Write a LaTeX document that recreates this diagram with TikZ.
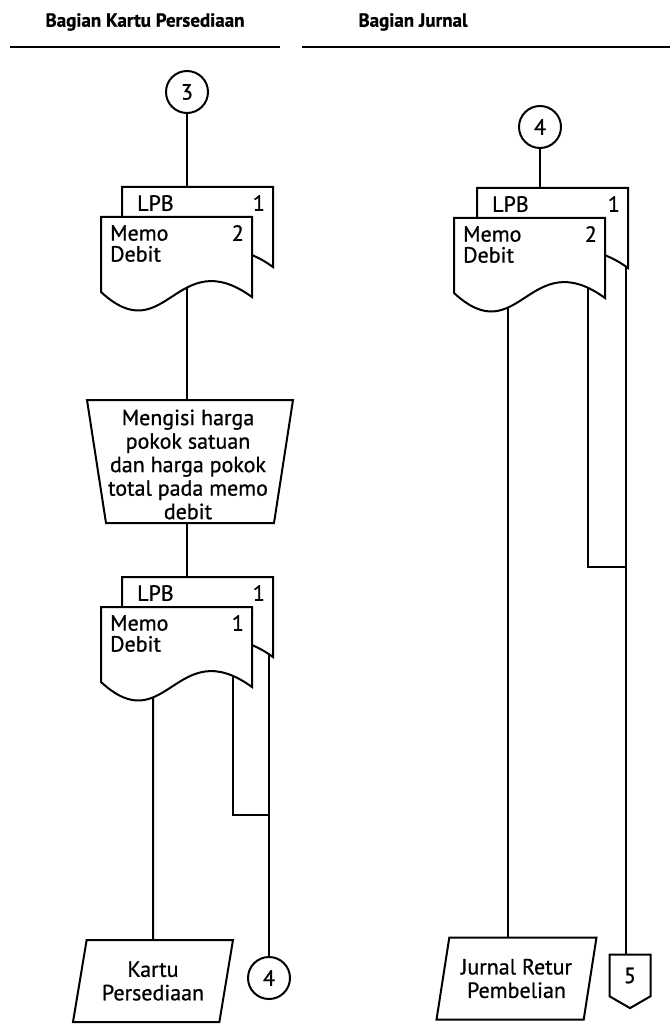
\documentclass[tikz,border=0pt]{standalone}
\usepackage{fontspec}
\setmainfont{PT Sans}[FakeBold=0.8]
\usetikzlibrary{shapes.geometric,shapes.symbols,backgrounds,positioning}

\newcommand{\teks}{\fontsize{22}{23.5}\selectfont}
% dokumen: nama, x, y, isi, nomor, indent
\newcommand{\dok}[6]{%
  \node[dokarea] (#1) at (#2,#3) {};
  \draw[garis,fill=white] (#1.north west) -- (#1.north east) -- ++(0,80)
    .. controls +(-76,-55) and +(65,60) .. ++(-151,-5) -- cycle;
  \node[dokteks] at ([shift={(#6,8)}]#1.north west) {#4};
  \node[doknomor] at ([shift={(-8,8)}]#1.north east) {#5};
}

\begin{document}
\begin{tikzpicture}[x=1pt,y=-1pt,
  garis/.style={line width=2pt},
  judul/.style={font=\fontsize{19}{20}\selectfont\bfseries},
  dokarea/.style={anchor=north west,minimum width=151pt,minimum height=75pt,inner sep=0pt,outer sep=0pt},
  dokteks/.style={anchor=north west,inner sep=0pt,align=left,font=\fontsize{22}{21}\selectfont},
  doknomor/.style={anchor=north east,inner sep=0pt,font=\teks},
  konektor/.style={circle,draw,garis,fill=white,minimum size=42pt,inner sep=0pt,font=\teks},
  isiteks/.style={align=center,inner sep=0pt,font=\teks},
  arsip/.style={trapezium,trapezium left angle=75,trapezium right angle=105,trapezium stretches=true,
    draw,garis,fill=white,minimum width=160pt,minimum height=82pt,align=center,inner sep=0pt,font=\teks},
  halaman/.style={signal,signal to=south,signal from=nowhere,signal pointer angle=120,
    draw,garis,fill=white,minimum width=41pt,minimum height=45pt,inner sep=0pt,font=\teks}]
\useasboundingbox (0,0) rectangle (670,1024);
% judul kolom
\node[judul] (judulA) at (145,22) {Bagian Kartu Persediaan};
\node[judul] (judulB) at (413,22) {Bagian Jurnal};
\draw[garis] (10,47) -- (280,47);
\draw[garis] (302,47) -- (670,47);

% bagian kartu persediaan
\node[konektor] (tiga) at (187,92) {3};
\dok{lpbA}{122}{187}{LPB}{1}{15}
\dok{memoA}{101}{217}{Memo\\Debit}{2}{9}
% operasi manual
\coordinate (isi) at (190,461.5);
\draw[garis,fill=white] ([shift={(-103,-61.5)}]isi) -- ++(206,0) -- ++(-19,123) -- ++(-168,0) -- cycle;
\node[isiteks] (isiteks) at ([shift={(-2,3)}]isi) {Mengisi harga\\pokok satuan\\dan harga pokok\\total pada memo\\debit};
\dok{lpbC}{122}{577}{LPB}{1}{15}
\dok{memoC}{101}{607}{Memo\\Debit}{1}{9}
\node[arsip] (kartu) at (153,981) {Kartu\\Persediaan};
\node[konektor] (empatA) at (269,978) {4};
\coordinate (belokA) at (233,815);

% bagian jurnal
\node[konektor] (empatB) at (540,127) {4};
\dok{lpbB}{477}{188}{LPB}{1}{15}
\dok{memoB}{454}{218}{Memo\\Debit}{2}{9}
\node[arsip] (retur) at (516.5,978.5) {Jurnal Retur\\Pembelian};
\node[halaman] (lima) at (630,975.5) {5};
\coordinate (kiriB) at (508,567);
\coordinate (belokB) at (588,567);
\coordinate (jalurB) at (626,567);

% garis alir di belakang simbol
\begin{scope}[on background layer]
\fill[white] (0,0) rectangle (670,1024);
\draw[garis] (tiga) -- (tiga |- isi) -- (tiga |- memoC);
\draw[garis] (kartu |- memoC) -- (kartu);
\draw[garis] (belokA |- memoC) -- (belokA) -- (belokA -| empatA);
\draw[garis] (empatA |- lpbC) -- (empatA);
\draw[garis] (empatB) -- (empatB |- memoB);
\draw[garis] (kiriB |- memoB) -- (kiriB |- retur);
\draw[garis] (belokB |- memoB) -- (belokB) -- (jalurB);
\draw[garis] (jalurB |- lpbB) -- (jalurB |- lima);
\end{scope}
\end{tikzpicture}
\end{document}
